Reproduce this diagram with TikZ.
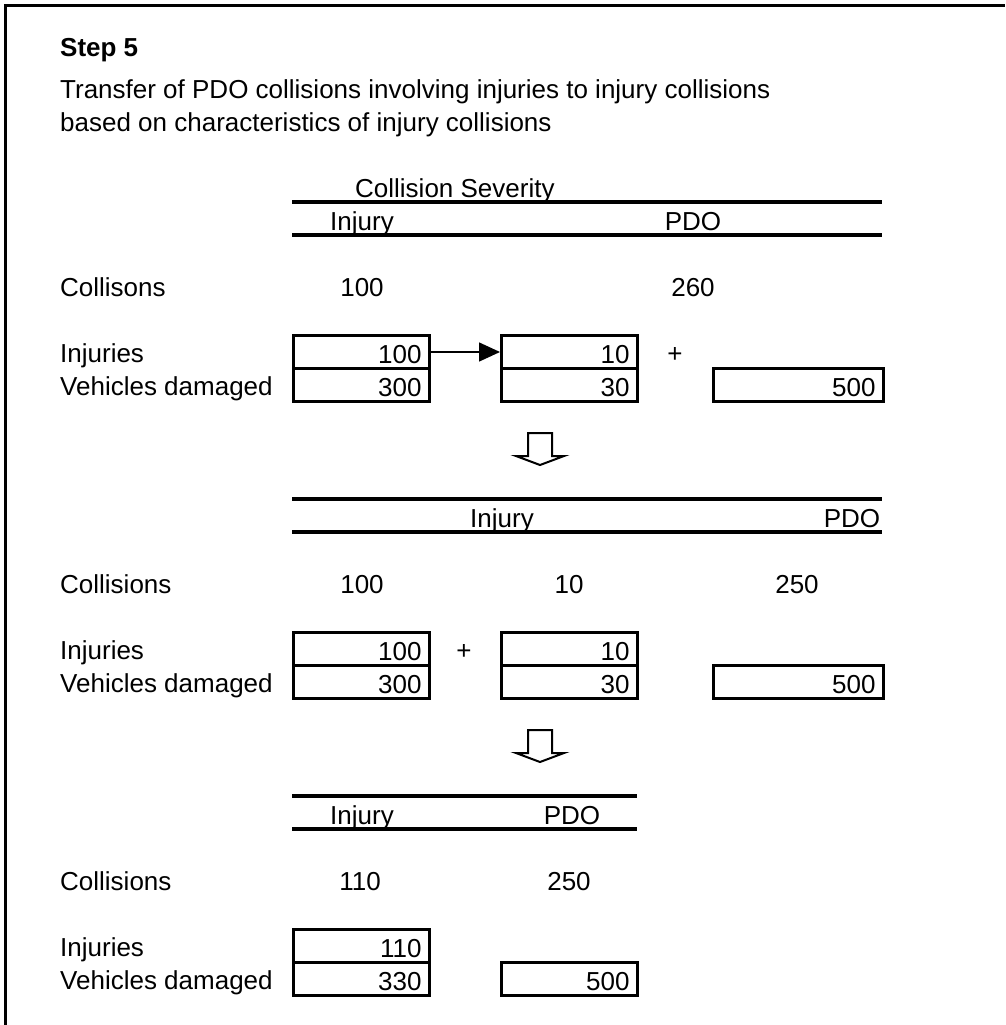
\documentclass[tikz,border=0pt]{standalone}
\usepackage{fontspec}
\setmainfont{Liberation Sans}
\usetikzlibrary{arrows.meta}
\begin{document}
\begin{tikzpicture}[x=1pt,y=-1pt,
  font=\fontsize{26}{31}\selectfont,
  txt/.style={inner sep=0pt},
  cell/.style={draw, line width=3pt, minimum height=33pt, minimum width=136pt,
    text width=120pt, inner xsep=8pt, inner ysep=0pt, text height=23pt,
    text depth=0pt, align=right, anchor=north west},
  widecell/.style={cell, minimum width=170pt, text width=154pt},
  hline/.style={line width=3.5pt},
  frame/.style={line width=3pt},
  hollow/.style={line width=2pt, line join=miter}
]
\useasboundingbox (0,0) rectangle (1005,1025);
% frame
\draw[frame] (5.5,1025) -- (5.5,5.5) -- (1005,5.5);

% title
\node[txt, anchor=base west] (step) at (60,57) {\bfseries Step 5};
\node[txt, anchor=base west] (t1) at (60,98) {Transfer of PDO collisions involving injuries to injury collisions};
\node[txt, anchor=base west] (t2) at (60,131) {based on characteristics of injury collisions};

% ---------- section 1 ----------
\node[txt, anchor=base west] (cs) at (355,197) {Collision Severity};
\draw[hline] (292,202) -- (882,202);
\draw[hline] (292,235) -- (882,235);
\node[txt, anchor=base] (h1i) at (362,230) {Injury};
\node[txt, anchor=base] (h1p) at (693,230) {PDO};

\node[txt, anchor=base west] (l1c) at (60,296) {Collisons};
\node[txt, anchor=base] (v1a) at (362,296) {100};
\node[txt, anchor=base] (v1b) at (693,296) {260};

\node[txt, anchor=base west] (l1i) at (60,362) {Injuries};
\node[txt, anchor=base west] (l1v) at (60,395) {Vehicles damaged};

\node[cell] (a1i) at (292,334) {100};
\node[cell] (a1v) at (292,367) {300};
\node[cell] (b1i) at (500,334) {10};
\node[cell] (b1v) at (500,367) {30};
\node[txt, anchor=base] (p1) at (675,362) {+};
\node[widecell] (c1v) at (712,367) {500};

\draw[line width=1.5pt, -{Triangle[length=21pt,width=19pt]}] (a1i.east) -- (b1i.west);

% hollow arrow 1
\draw[hollow] (528,433) -- (528,456) -- (516,456) -- (540,465) -- (564,456) -- (552,456) -- (552,433) -- cycle;

% ---------- section 2 ----------
\draw[hline] (292,499) -- (882,499);
\draw[hline] (292,532) -- (882,532);
\node[txt, anchor=base] (h2i) at (502,527) {Injury};
\node[txt, anchor=base] (h2p) at (852,527) {PDO};

\node[txt, anchor=base west] (l2c) at (60,593) {Collisions};
\node[txt, anchor=base] (v2a) at (362,593) {100};
\node[txt, anchor=base] (v2b) at (569,593) {10};
\node[txt, anchor=base] (v2c) at (797,593) {250};

\node[txt, anchor=base west] (l2i) at (60,659) {Injuries};
\node[txt, anchor=base west] (l2v) at (60,692) {Vehicles damaged};

\node[cell] (a2i) at (292,631) {100};
\node[cell] (a2v) at (292,664) {300};
\node[txt, anchor=base] (p2) at (464,659) {+};
\node[cell] (b2i) at (500,631) {10};
\node[cell] (b2v) at (500,664) {30};
\node[widecell] (c2v) at (712,664) {500};

% hollow arrow 2
\draw[hollow] (528,730) -- (528,753) -- (516,753) -- (540,762) -- (564,753) -- (552,753) -- (552,730) -- cycle;

% ---------- section 3 ----------
\draw[hline] (292,796) -- (637,796);
\draw[hline] (292,829) -- (637,829);
\node[txt, anchor=base] (h3i) at (362,824) {Injury};
\node[txt, anchor=base] (h3p) at (572,824) {PDO};

\node[txt, anchor=base west] (l3c) at (60,890) {Collisions};
\node[txt, anchor=base] (v3a) at (360,890) {110};
\node[txt, anchor=base] (v3b) at (569,890) {250};

\node[txt, anchor=base west] (l3i) at (60,956) {Injuries};
\node[txt, anchor=base west] (l3v) at (60,989) {Vehicles damaged};

\node[cell] (a3i) at (292,928) {110};
\node[cell] (a3v) at (292,961) {330};
\node[cell] (b3v) at (500,961) {500};
\end{tikzpicture}
\end{document}
